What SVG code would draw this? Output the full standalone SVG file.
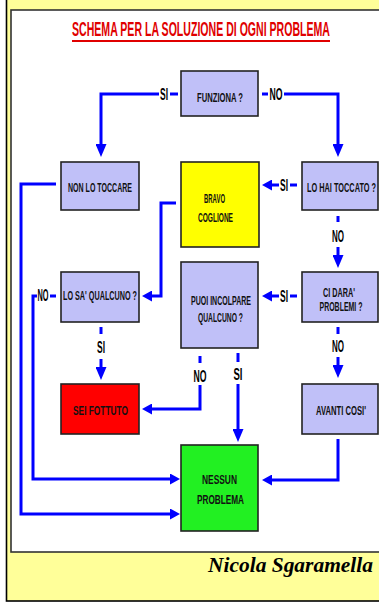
<svg xmlns="http://www.w3.org/2000/svg" width="379" height="603" viewBox="0 0 379 603">
<defs>
<style>
.box{stroke:#222;stroke-width:1.6}
.q{fill:#C0C0F8}
.t{font-family:"Liberation Sans",Arial,sans-serif;font-size:13px;font-weight:bold;fill:#111;text-anchor:middle}
.lbl{font-family:"Liberation Sans",Arial,sans-serif;font-size:16px;font-weight:bold;fill:#000;text-anchor:middle}
.c{fill:none;stroke:#0000FF;stroke-width:3}
.h{marker-end:url(#ah)}
.v{marker-end:url(#av)}
</style>
<marker id="ah" viewBox="0 0 10 11" refX="0" refY="5.5" markerWidth="10" markerHeight="11" markerUnits="userSpaceOnUse" orient="auto"><path d="M0,0 L10,5.5 L0,11 z" fill="#0000FF"/></marker>
<marker id="av" viewBox="0 0 13 11" refX="0" refY="5.5" markerWidth="13" markerHeight="11" markerUnits="userSpaceOnUse" orient="auto"><path d="M0,0 L13,5.5 L0,11 z" fill="#0000FF"/></marker>
</defs>
<rect x="0" y="0" width="379" height="603" fill="#fff"/>
<rect x="6.5" y="-5" width="385" height="606" fill="#FFFF99" stroke="#000" stroke-width="1.6"/>
<rect x="11" y="10" width="385" height="542" fill="#fff" stroke="#333" stroke-width="1.6"/>

<g id="title">
<text x="201" y="36" font-family="'Liberation Sans',Arial,sans-serif" font-size="19.5" font-weight="bold" fill="#E00000" text-anchor="middle" textLength="258" lengthAdjust="spacingAndGlyphs">SCHEMA PER LA SOLUZIONE DI OGNI PROBLEMA</text>
<path d="M72,41 H330" stroke="#E00000" stroke-width="2"/>
</g>

<g id="connectors">
<path class="c v" d="M159,94 H101 V144"/>
<path class="c v" d="M284,94 H338 V144"/>
<path class="c h" d="M279,185 H272"/>
<path class="c v" d="M338,247 V255"/>
<path class="c h" d="M176,203 H161 V296 H152"/>
<path class="c h" d="M279,296 H272"/>
<path class="c h" d="M37,296 H33 V479 H170"/>
<path class="c h" d="M56,184 H21 V514 H170"/>
<path class="c v" d="M101,359 V367"/>
<path class="c v" d="M338,357 V365"/>
<path class="c h" d="M200,385 V409 H152"/>
<path class="c v" d="M238,384 V429"/>
<path class="c h" d="M338,439 V480 H272"/>
<path class="c" d="M170,94 H178 M262,94 H268 M290,185 H297 M338,216 V222 M290,296 H297 M50,296 H56 M101,327 V334 M338,327 V334 M200,356 V363 M238,353 V362"/>
<text class="lbl" x="164" y="100" textLength="8" lengthAdjust="spacingAndGlyphs">SI</text>
<text class="lbl" x="276" y="100" textLength="13" lengthAdjust="spacingAndGlyphs">NO</text>
<text class="lbl" x="284" y="191" textLength="8" lengthAdjust="spacingAndGlyphs">SI</text>
<text class="lbl" x="338" y="242" textLength="12" lengthAdjust="spacingAndGlyphs">NO</text>
<text class="lbl" x="284" y="302" textLength="8" lengthAdjust="spacingAndGlyphs">SI</text>
<text class="lbl" x="43" y="301" textLength="11" lengthAdjust="spacingAndGlyphs">NO</text>
<text class="lbl" x="101" y="353" textLength="8" lengthAdjust="spacingAndGlyphs">SI</text>
<text class="lbl" x="338" y="352" textLength="12" lengthAdjust="spacingAndGlyphs">NO</text>
<text class="lbl" x="200" y="382" textLength="13" lengthAdjust="spacingAndGlyphs">NO</text>
<text class="lbl" x="238" y="380" textLength="9" lengthAdjust="spacingAndGlyphs">SI</text>
</g>

<g id="n_funziona"><rect class="box q" x="181" y="71" width="77" height="45"/><text class="t" x="220" y="101.5" font-size="12" textLength="46" lengthAdjust="spacingAndGlyphs">FUNZIONA ?</text></g>
<g id="n_nontoccare"><rect class="box q" x="61" y="162" width="78" height="48"/><text class="t" x="100" y="192" textLength="64" lengthAdjust="spacingAndGlyphs">NON LO TOCCARE</text></g>
<g id="n_bravo"><rect class="box" fill="#FFFF00" x="181" y="162" width="78" height="85"/><text class="t" x="214.5" y="203" font-size="15" textLength="21" lengthAdjust="spacingAndGlyphs">BRAVO</text><text class="t" x="215.5" y="222" font-size="15" textLength="35" lengthAdjust="spacingAndGlyphs">COGLIONE</text></g>
<g id="n_haitoccato"><rect class="box q" x="302" y="162" width="76" height="48"/><text class="t" x="341.5" y="192" textLength="69" lengthAdjust="spacingAndGlyphs">LO HAI TOCCATO ?</text></g>
<g id="n_losa"><rect class="box q" x="61" y="272" width="78" height="50"/><text class="t" x="100" y="300" textLength="74" lengthAdjust="spacingAndGlyphs">LO SA' QUALCUNO ?</text></g>
<g id="n_puoi"><rect class="box q" x="181" y="262" width="77" height="86"/><text class="t" x="221" y="305" textLength="60" lengthAdjust="spacingAndGlyphs">PUOI INCOLPARE</text><text class="t" x="220.5" y="322" textLength="45" lengthAdjust="spacingAndGlyphs">QUALCUNO ?</text></g>
<g id="n_cidara"><rect class="box q" x="302" y="272" width="76" height="50"/><text class="t" x="339" y="297" textLength="32" lengthAdjust="spacingAndGlyphs">CI DARA'</text><text class="t" x="341" y="311" textLength="43" lengthAdjust="spacingAndGlyphs">PROBLEMI ?</text></g>
<g id="n_sei"><rect class="box" fill="#FF0000" x="61" y="384" width="78" height="50"/><text class="t" x="100.5" y="415" textLength="55" lengthAdjust="spacingAndGlyphs">SEI FOTTUTO</text></g>
<g id="n_avanti"><rect class="box q" x="302" y="384" width="76" height="50"/><text class="t" x="341" y="415" textLength="50" lengthAdjust="spacingAndGlyphs">AVANTI COSI'</text></g>
<g id="n_nessun"><rect class="box" fill="#22F022" x="181" y="445" width="77" height="86"/><text class="t" x="219.5" y="484" textLength="35" lengthAdjust="spacingAndGlyphs">NESSUN</text><text class="t" x="220.5" y="504" textLength="47" lengthAdjust="spacingAndGlyphs">PROBLEMA</text></g>

<g id="footer"><text x="373" y="572" font-family="'Liberation Serif','Times New Roman',serif" font-size="21.5" font-weight="bold" font-style="italic" fill="#000" text-anchor="end" textLength="165" lengthAdjust="spacingAndGlyphs">Nicola Sgaramella</text></g>
</svg>
